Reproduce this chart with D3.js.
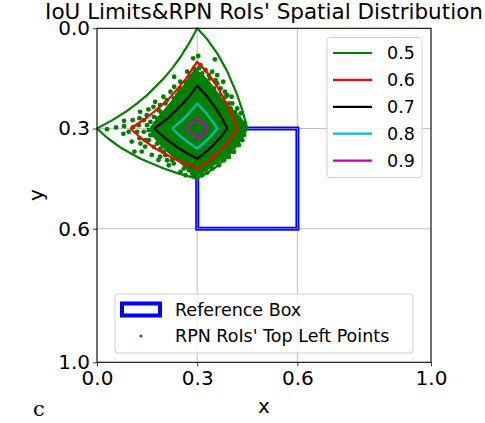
<!DOCTYPE html>
<html>
<head>
<meta charset="utf-8">
<script src="https://d3js.org/d3.v7.min.js"></script>
<style>
	body { margin: 0; background: #ffffff; }
	text { font-family: "DejaVu Sans", sans-serif; fill: #000000; }
</style>
</head>
<body>
<div id="canvas"></div>
<script>
// IoU limit contours (top left corner positions)
var limit05 = [[0,0.3],[0.046,0.275],[0.086,0.25],[0.12,0.225],[0.15,0.2],[0.2,0.15],[0.225,0.12],[0.25,0.086],[0.275,0.046],[0.3,0],
	[0.315,0.016],[0.33,0.033],[0.36,0.075],[0.39,0.129],[0.42,0.2],[0.435,0.245],[0.445,0.281],[0.45,0.3],
	[0.42,0.35],[0.388,0.388],[0.35,0.42],[0.3,0.45],
	[0.281,0.445],[0.245,0.435],[0.2,0.42],[0.129,0.39],[0.075,0.36],[0.033,0.33],[0.016,0.315],[0,0.3]];
var limit06 = [[0.1,0.3],[0.15,0.267],[0.2,0.225],[0.213,0.213],[0.225,0.2],[0.267,0.15],[0.3,0.1],
	[0.33,0.133],[0.36,0.175],[0.39,0.229],[0.405,0.262],[0.42,0.3],
	[0.4,0.33],[0.368,0.368],[0.33,0.4],[0.3,0.42],
	[0.262,0.405],[0.229,0.39],[0.175,0.36],[0.133,0.33],[0.1,0.3]];
var limit07 = [[0.171,0.3],[0.2,0.279],[0.22,0.262],[0.241,0.241],[0.262,0.22],[0.279,0.2],[0.3,0.171],
	[0.33,0.205],[0.36,0.246],[0.375,0.271],[0.39,0.3],
	[0.37,0.326],[0.349,0.349],[0.326,0.37],[0.3,0.39],
	[0.271,0.375],[0.246,0.36],[0.205,0.33],[0.171,0.3]];
var limit08 = [[0.225,0.3],[0.245,0.283],[0.265,0.265],[0.283,0.245],[0.3,0.225],
	[0.32,0.246],[0.34,0.271],[0.36,0.3],
	[0.35,0.312],[0.332,0.332],[0.312,0.35],[0.3,0.36],
	[0.271,0.34],[0.246,0.32],[0.225,0.3]];
var limit09 = [[0.267,0.3],[0.284,0.284],[0.3,0.267],[0.315,0.283],[0.33,0.3],[0.315,0.315],[0.3,0.33],[0.283,0.315],[0.267,0.3]];

var limitLabels = ["0.5", "0.6", "0.7", "0.8", "0.9"];
var limitLines = [limit05, limit06, limit07, limit08, limit09];

// reference box [x0, y0, x1, y1]
var refBox = [0.3, 0.3, 0.6, 0.6];

// outline of the solid (overplotted) part of the RoI cloud
var denseCloud = [[0.295,0.128],[0.323,0.148],[0.348,0.178],[0.376,0.215],[0.405,0.245],[0.43,0.27],[0.443,0.29],
	[0.44,0.314],[0.416,0.352],[0.386,0.382],[0.348,0.41],[0.318,0.43],[0.3,0.44],[0.278,0.426],
	[0.25,0.402],[0.22,0.376],[0.193,0.35],[0.172,0.325],[0.162,0.3],[0.18,0.272],[0.205,0.242],
	[0.23,0.212],[0.254,0.182],[0.275,0.15]];

// isolated RoI top left points
var roiPoints = [[0.057,0.297],[0.081,0.293],[0.079,0.316],[0.081,0.277],[0.107,0.275],[0.108,0.296],[0.104,0.339],
	[0.127,0.329],[0.112,0.369],[0.134,0.369],[0.144,0.354],[0.164,0.379],[0.189,0.384],[0.184,0.394],
	[0.129,0.25],[0.127,0.269],[0.149,0.26],[0.154,0.243],[0.169,0.235],[0.174,0.22],[0.189,0.23],[0.199,0.205],[0.209,0.215],
	[0.231,0.145],[0.249,0.16],[0.288,0.09],[0.303,0.083],[0.353,0.093],[0.318,0.165],[0.293,0.16],[0.378,0.16],
	[0.383,0.19],[0.403,0.205],[0.413,0.25],[0.338,0.15],[0.231,0.175],
	[0.03,0.302],[0.095,0.31],[0.14,0.31],[0.15,0.29],[0.16,0.32],[0.13,0.345],[0.155,0.335],[0.17,0.355],
	[0.2,0.37],[0.21,0.395],[0.23,0.405],[0.24,0.39],[0.215,0.41],[0.26,0.42],[0.285,0.435],[0.25,0.43],
	[0.19,0.25],[0.2,0.26],[0.18,0.27],[0.215,0.24],[0.22,0.19],[0.24,0.2],[0.25,0.18],[0.26,0.19],[0.27,0.13],
	[0.275,0.17],[0.28,0.145],[0.295,0.125],[0.31,0.11],[0.315,0.135],[0.325,0.125],[0.345,0.13],[0.355,0.155],
	[0.36,0.14],[0.37,0.18],[0.39,0.2],[0.395,0.225],[0.42,0.24],[0.425,0.27],[0.43,0.255],
	[0.44,0.32],[0.435,0.335],[0.425,0.35],[0.41,0.37],[0.395,0.385],[0.38,0.395],[0.365,0.41],[0.345,0.42],
	[0.33,0.432],[0.315,0.44],[0.3,0.447],[0.29,0.44],[0.445,0.3],[0.442,0.285],
	[0.165,0.3],[0.175,0.285],[0.17,0.32],[0.185,0.335],[0.2,0.35],[0.22,0.365],[0.235,0.38],[0.255,0.395],
	[0.27,0.41],[0.2,0.28],[0.22,0.26],[0.24,0.235],[0.255,0.21],[0.27,0.19],[0.285,0.165],[0.3,0.14],
	[0.31,0.15],[0.33,0.165],[0.35,0.18],[0.365,0.2],[0.38,0.22],[0.4,0.24],[0.415,0.26],
	[0.155,0.305],[0.16,0.28],[0.19,0.36],[0.205,0.38],[0.18,0.345],[0.145,0.335],[0.17,0.265],[0.185,0.245],
	[0.205,0.225],[0.23,0.21],[0.245,0.19],[0.265,0.16],[0.29,0.12],[0.305,0.12],[0.335,0.14],[0.36,0.165],
	[0.385,0.205],[0.405,0.225],[0.125,0.29],[0.14,0.275],[0.12,0.31],[0.265,0.44],[0.275,0.425],[0.225,0.395]];

var tickValues = [0, 0.3, 0.6, 1.0];
var limitColors = ["#008000", "#ff0000", "#000000", "#00bfbf", "#bf00bf"];

var w = 485, h = 423;
var svg = d3.select("#canvas")
	.append("svg")
	.attr("width", w)
	.attr("height", h);

var x = d3.scaleLinear().domain([0, 1]).range([97, 431]);
var y = d3.scaleLinear().domain([0, 1]).range([28.3, 362.3]);

// grid
svg.append("g")
	.selectAll("line.gx")
	.data(tickValues)
	.enter()
	.append("line")
	.attr("x1", function(d){ return x(d); })
	.attr("x2", function(d){ return x(d); })
	.attr("y1", y(0))
	.attr("y2", y(1))
	.attr("stroke", "#b0b0b0")
	.attr("stroke-width", 0.8);
svg.append("g")
	.selectAll("line.gy")
	.data(tickValues)
	.enter()
	.append("line")
	.attr("y1", function(d){ return y(d); })
	.attr("y2", function(d){ return y(d); })
	.attr("x1", x(0))
	.attr("x2", x(1))
	.attr("stroke", "#b0b0b0")
	.attr("stroke-width", 0.8);

// reference box
svg.append("rect")
	.attr("x", x(refBox[0]))
	.attr("y", y(refBox[1]))
	.attr("width", x(refBox[2]) - x(refBox[0]))
	.attr("height", y(refBox[3]) - y(refBox[1]))
	.attr("fill", "none")
	.attr("stroke", "#0000ff")
	.attr("stroke-width", 4);
svg.append("rect")
	.attr("x", x(refBox[0]))
	.attr("y", y(refBox[1]))
	.attr("width", x(refBox[2]) - x(refBox[0]))
	.attr("height", y(refBox[3]) - y(refBox[1]))
	.attr("fill", "none")
	.attr("stroke", "#9090ff")
	.attr("stroke-width", 0.8);

var line = d3.line()
	.x(function(d){ return x(d[0]); })
	.y(function(d){ return y(d[1]); });

// RoI cloud
svg.append("path")
	.datum(denseCloud)
	.attr("d", line.curve(d3.curveCardinalClosed))
	.attr("fill", "#008000")
	.attr("stroke", "#008000")
	.attr("stroke-width", 2);
line.curve(d3.curveLinear);

svg.append("g")
	.selectAll("circle")
	.data(roiPoints)
	.enter()
	.append("circle")
	.attr("cx", function(d){ return x(d[0]); })
	.attr("cy", function(d){ return y(d[1]); })
	.attr("r", 2.4)
	.attr("fill", "#008000");

// IoU limits
svg.append("g")
	.selectAll("path")
	.data(limitLines)
	.enter()
	.append("path")
	.attr("d", function(d){ return line(d); })
	.attr("fill", "none")
	.attr("stroke", function(d, i){ return limitColors[i]; })
	.attr("stroke-width", 2.2)
	.attr("stroke-linejoin", "round");

// axes
var xAxis = d3.axisBottom(x).tickValues(tickValues).tickFormat(d3.format(".1f")).tickSize(4).tickSizeOuter(0);
var yAxis = d3.axisLeft(y).tickValues(tickValues).tickFormat(d3.format(".1f")).tickSize(4).tickSizeOuter(0);

var gx = svg.append("g").attr("transform", "translate(0," + y(1) + ")").call(xAxis);
var gy = svg.append("g").attr("transform", "translate(" + x(0) + ",0)").call(yAxis);
[gx, gy].forEach(function(g){
	g.select(".domain").remove();
	g.selectAll("line").attr("stroke", "#000").attr("stroke-width", 0.8);
	g.selectAll("text").attr("font-size", 20).attr("font-family", "DejaVu Sans").attr("fill", "#000");
});
gx.selectAll("text").attr("dy", "0.85em").attr("y", 6);
gy.selectAll("text").attr("x", -7);

// frame
svg.append("rect")
	.attr("x", x(0))
	.attr("y", y(0))
	.attr("width", x(1) - x(0))
	.attr("height", y(1) - y(0))
	.attr("fill", "none")
	.attr("stroke", "#000")
	.attr("stroke-width", 1);

// titles
svg.append("text")
	.attr("x", 264)
	.attr("y", 19)
	.attr("text-anchor", "middle")
	.attr("font-size", 21.5)
	.text("IoU Limits&RPN RoIs' Spatial Distribution");
svg.append("text")
	.attr("x", 264)
	.attr("y", 413)
	.attr("text-anchor", "middle")
	.attr("font-size", 20)
	.text("x");
svg.append("text")
	.attr("transform", "translate(43,195) rotate(-90)")
	.attr("text-anchor", "middle")
	.attr("font-size", 20)
	.text("y");
svg.append("text")
	.attr("x", 33)
	.attr("y", 416)
	.attr("font-size", 21)
	.style("font-family", "'DejaVu Serif', serif")
	.text("c");

// legend: IoU limits
var leg1 = svg.append("g");
leg1.append("rect")
	.attr("x", 327).attr("y", 37.5)
	.attr("width", 95).attr("height", 140)
	.attr("rx", 3)
	.attr("fill", "#ffffff").attr("fill-opacity", 0.8)
	.attr("stroke", "#d0d0d0").attr("stroke-width", 1);
leg1.selectAll("g")
	.data(limitLabels)
	.enter()
	.append("g")
	.attr("transform", function(d, i){ return "translate(0," + (53 + i * 26.9) + ")"; })
	.each(function(d, i){
		d3.select(this).append("line")
			.attr("x1", 333).attr("x2", 372)
			.attr("y1", 0).attr("y2", 0)
			.attr("stroke", limitColors[i])
			.attr("stroke-width", 2.2);
		d3.select(this).append("text")
			.attr("x", 387).attr("y", 6)
			.attr("font-size", 17.5)
			.text(d);
	});

// legend: reference box and RoI points
var leg2 = svg.append("g");
leg2.append("rect")
	.attr("x", 115).attr("y", 294)
	.attr("width", 298).attr("height", 59)
	.attr("rx", 3)
	.attr("fill", "#ffffff").attr("fill-opacity", 0.8)
	.attr("stroke", "#d0d0d0").attr("stroke-width", 1);
leg2.append("rect")
	.attr("x", 122).attr("y", 303.5)
	.attr("width", 38).attr("height", 12)
	.attr("fill", "#ffffff")
	.attr("stroke", "#0000ff")
	.attr("stroke-width", 4);
leg2.append("circle")
	.attr("cx", 141).attr("cy", 336)
	.attr("r", 1.5)
	.attr("fill", "#008000");
leg2.append("text")
	.attr("x", 175).attr("y", 315.5)
	.attr("font-size", 17.5)
	.text("Reference Box");
leg2.append("text")
	.attr("x", 175).attr("y", 342)
	.attr("font-size", 17.5)
	.text("RPN RoIs' Top Left Points");
</script>
</body>
</html>
